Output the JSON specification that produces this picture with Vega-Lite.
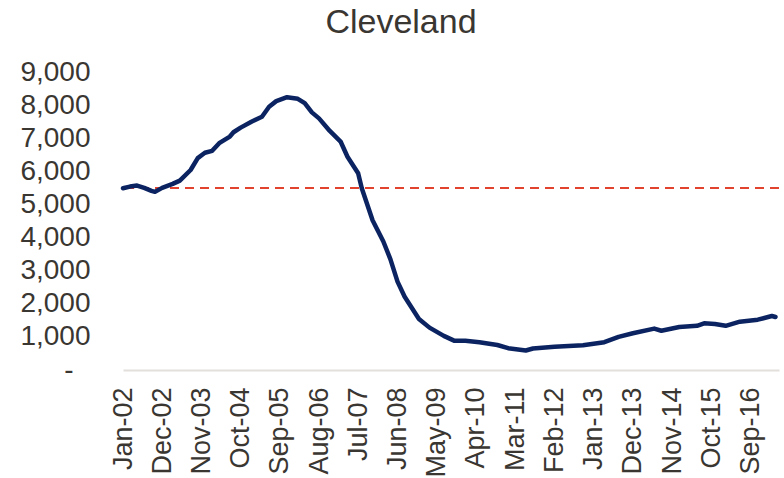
{
  "$schema": "https://vega.github.io/schema/vega-lite/v6.json",
  "autosize": "none",
  "width": 656,
  "height": 298,
  "padding": {"left": 123, "top": 72, "right": 5, "bottom": 108},
  "background": "white",
  "title": {
    "text": "Cleveland",
    "font": "Liberation Sans",
    "fontSize": 34,
    "fontWeight": "normal",
    "color": "#3a3631",
    "anchor": "middle",
    "dx": -50,
    "dy": -14
  },
  "config": {
    "view": {"stroke": null},
    "font": "Liberation Sans",
    "axisY": {
      "title": null,
      "values": [0, 1000, 2000, 3000, 4000, 5000, 6000, 7000, 8000, 9000],
      "labelExpr": "datum.value == 0 ? '-' : format(datum.value, ',')",
      "labelFont": "Liberation Sans",
      "labelFontSize": 28,
      "labelColor": "#3a3631",
      "labelPadding": {"condition": {"test": "datum.value == 0", "value": 50}, "value": 33},
      "labelOverlap": false,
      "ticks": false,
      "grid": false,
      "domain": false
    }
  },
  "datasets": {
    "series": [
      {"date": "2002-01-01T00:00:00", "value": 5490},
      {"date": "2002-03-01T00:00:00", "value": 5540},
      {"date": "2002-05-01T00:00:00", "value": 5570},
      {"date": "2002-07-01T00:00:00", "value": 5500},
      {"date": "2002-09-01T00:00:00", "value": 5410},
      {"date": "2002-10-01T00:00:00", "value": 5380},
      {"date": "2002-12-01T00:00:00", "value": 5500},
      {"date": "2003-03-01T00:00:00", "value": 5620},
      {"date": "2003-05-01T00:00:00", "value": 5720},
      {"date": "2003-08-01T00:00:00", "value": 6040},
      {"date": "2003-10-01T00:00:00", "value": 6400},
      {"date": "2003-12-01T00:00:00", "value": 6560},
      {"date": "2004-02-01T00:00:00", "value": 6620},
      {"date": "2004-04-01T00:00:00", "value": 6850},
      {"date": "2004-07-01T00:00:00", "value": 7050},
      {"date": "2004-08-01T00:00:00", "value": 7180},
      {"date": "2004-10-01T00:00:00", "value": 7320},
      {"date": "2005-01-01T00:00:00", "value": 7500},
      {"date": "2005-04-01T00:00:00", "value": 7650},
      {"date": "2005-06-01T00:00:00", "value": 7950},
      {"date": "2005-08-01T00:00:00", "value": 8120},
      {"date": "2005-11-01T00:00:00", "value": 8240},
      {"date": "2006-02-01T00:00:00", "value": 8190},
      {"date": "2006-04-01T00:00:00", "value": 8060},
      {"date": "2006-06-01T00:00:00", "value": 7780},
      {"date": "2006-08-01T00:00:00", "value": 7600},
      {"date": "2006-11-01T00:00:00", "value": 7220},
      {"date": "2007-02-01T00:00:00", "value": 6900},
      {"date": "2007-04-01T00:00:00", "value": 6440},
      {"date": "2007-07-01T00:00:00", "value": 5940},
      {"date": "2007-08-01T00:00:00", "value": 5490},
      {"date": "2007-11-01T00:00:00", "value": 4520},
      {"date": "2008-02-01T00:00:00", "value": 3880},
      {"date": "2008-04-01T00:00:00", "value": 3350},
      {"date": "2008-06-01T00:00:00", "value": 2670},
      {"date": "2008-08-01T00:00:00", "value": 2210},
      {"date": "2008-12-01T00:00:00", "value": 1540},
      {"date": "2009-03-01T00:00:00", "value": 1280},
      {"date": "2009-07-01T00:00:00", "value": 1030},
      {"date": "2009-10-01T00:00:00", "value": 880},
      {"date": "2010-01-01T00:00:00", "value": 880},
      {"date": "2010-05-01T00:00:00", "value": 840},
      {"date": "2010-10-01T00:00:00", "value": 755},
      {"date": "2011-01-01T00:00:00", "value": 660},
      {"date": "2011-06-01T00:00:00", "value": 590},
      {"date": "2011-08-01T00:00:00", "value": 650},
      {"date": "2012-02-01T00:00:00", "value": 700},
      {"date": "2012-10-01T00:00:00", "value": 750},
      {"date": "2013-04-01T00:00:00", "value": 840},
      {"date": "2013-08-01T00:00:00", "value": 1000},
      {"date": "2013-12-01T00:00:00", "value": 1110},
      {"date": "2014-06-01T00:00:00", "value": 1250},
      {"date": "2014-08-01T00:00:00", "value": 1185},
      {"date": "2015-01-01T00:00:00", "value": 1300},
      {"date": "2015-06-01T00:00:00", "value": 1335},
      {"date": "2015-08-01T00:00:00", "value": 1410},
      {"date": "2015-11-01T00:00:00", "value": 1390},
      {"date": "2016-02-01T00:00:00", "value": 1335},
      {"date": "2016-06-01T00:00:00", "value": 1460},
      {"date": "2016-11-01T00:00:00", "value": 1520},
      {"date": "2017-03-01T00:00:00", "value": 1630},
      {"date": "2017-04-01T00:00:00", "value": 1600}
    ],
    "benchmark": [{"level": 5500}]
  },
  "layer": [
    {
      "data": {"name": "benchmark"},
      "mark": {"type": "rule", "color": "#e2432f", "strokeWidth": 2, "strokeDash": [9, 6]},
      "encoding": {
        "y": {"field": "level", "type": "quantitative", "scale": {"domain": [0, 9000], "nice": false}}
      }
    },
    {
      "data": {"name": "series"},
      "mark": {"type": "line", "color": "#0b2461", "strokeWidth": 4.5, "strokeCap": "round", "strokeJoin": "round"},
      "encoding": {
        "x": {
          "field": "date",
          "type": "temporal",
          "scale": {"domain": [{"year": 2002, "month": 1, "date": 1}, {"year": 2017, "month": 5, "date": 1}]},
          "axis": {
            "title": null,
            "format": "%b-%y",
            "values": [
              {"year": 2002, "month": 1, "date": 1},
              {"year": 2002, "month": 12, "date": 1},
              {"year": 2003, "month": 11, "date": 1},
              {"year": 2004, "month": 10, "date": 1},
              {"year": 2005, "month": 9, "date": 1},
              {"year": 2006, "month": 8, "date": 1},
              {"year": 2007, "month": 7, "date": 1},
              {"year": 2008, "month": 6, "date": 1},
              {"year": 2009, "month": 5, "date": 1},
              {"year": 2010, "month": 4, "date": 1},
              {"year": 2011, "month": 3, "date": 1},
              {"year": 2012, "month": 2, "date": 1},
              {"year": 2013, "month": 1, "date": 1},
              {"year": 2013, "month": 12, "date": 1},
              {"year": 2014, "month": 11, "date": 1},
              {"year": 2015, "month": 10, "date": 1},
              {"year": 2016, "month": 9, "date": 1}
            ],
            "labelAngle": 270,
            "labelAlign": "right",
            "labelBaseline": "middle",
            "labelFont": "Liberation Sans",
            "labelFontSize": 27,
            "labelColor": "#3a3631",
            "labelPadding": 17,
            "labelOverlap": false,
            "labelFlush": false,
            "ticks": false,
            "grid": false,
            "domain": true,
            "domainColor": "#e3e0db",
            "domainWidth": 2
          }
        },
        "y": {
          "field": "value",
          "type": "quantitative",
          "scale": {"domain": [0, 9000], "nice": false}
        }
      }
    }
  ]
}
